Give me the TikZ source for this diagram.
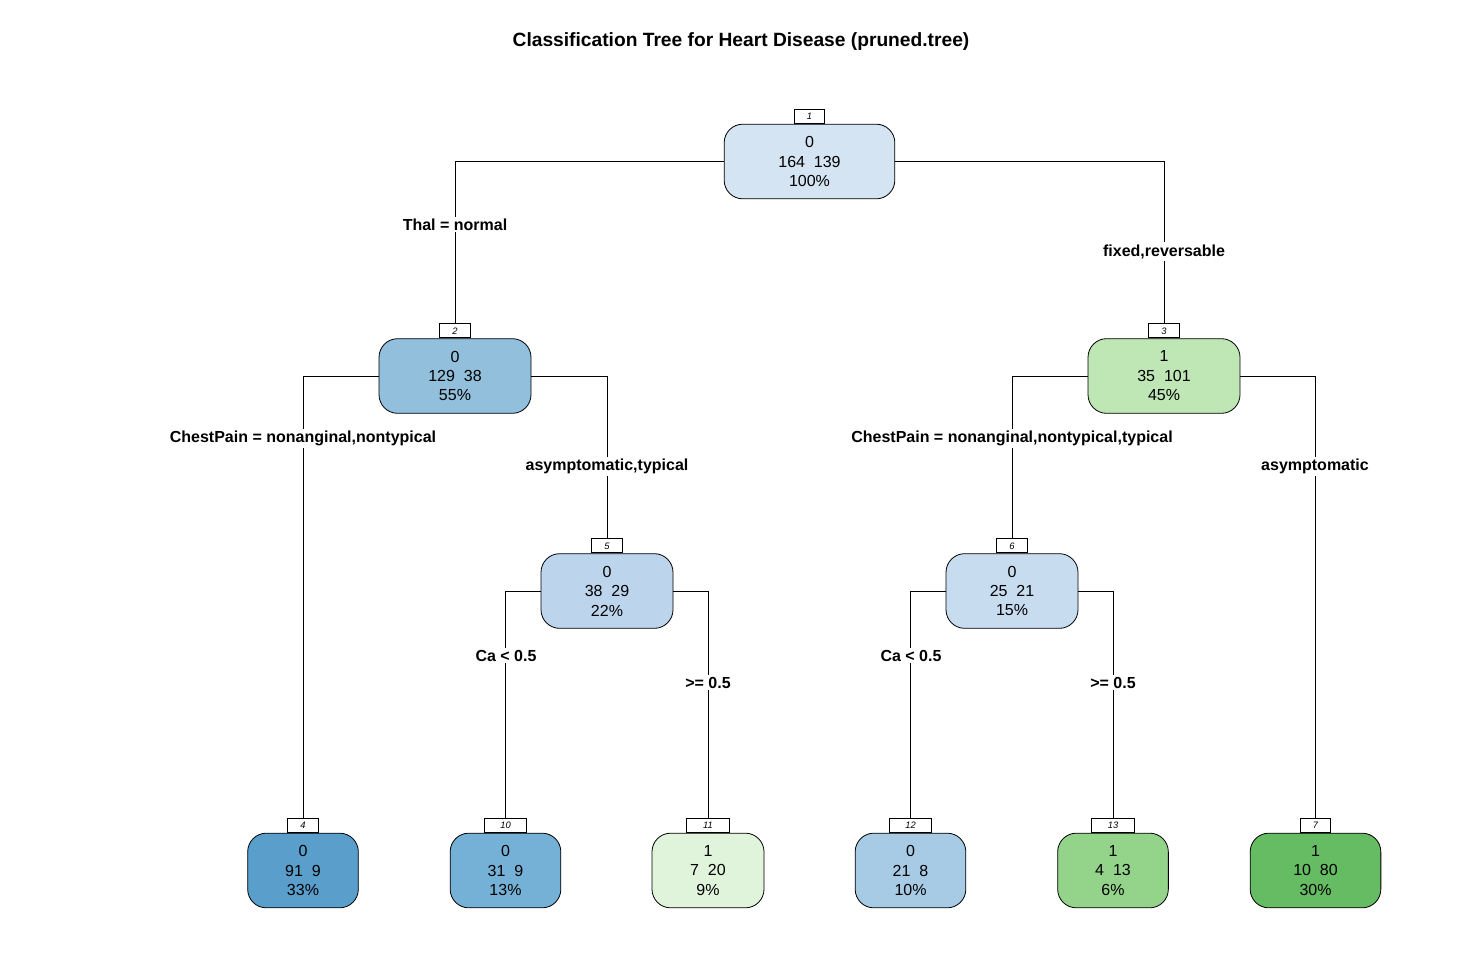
\documentclass[tikz,border=0pt]{standalone}
\usepackage{fontspec}
\setmainfont{Liberation Sans}
\definecolor{c1}{RGB}{213,228,243}
\definecolor{c2}{RGB}{146,191,219}
\definecolor{c3}{RGB}{191,230,181}
\definecolor{c4}{RGB}{90,158,204}
\definecolor{c5}{RGB}{188,212,236}
\definecolor{c6}{RGB}{200,220,240}
\definecolor{c7}{RGB}{101,188,98}
\definecolor{c10}{RGB}{117,177,214}
\definecolor{c11}{RGB}{224,243,219}
\definecolor{c12}{RGB}{167,203,228}
\definecolor{c13}{RGB}{148,212,138}
\begin{document}
\begin{tikzpicture}[x=0.75pt,y=-0.75pt,
  tnode/.style={draw, rounded corners=14pt, minimum height=56pt, align=center,
    font=\fontsize{12}{14.6}\selectfont, inner sep=0pt, line width=0.6pt},
  numbox/.style={draw, fill=white, anchor=south, minimum width=23pt, minimum height=10.5pt,
    inner sep=1pt, line width=0.6pt, font=\fontsize{7}{8}\itshape\selectfont},
  elabel/.style={fill=white, font=\fontsize{12}{14}\bfseries\selectfont, inner sep=1.5pt},
  edge/.style={line width=0.6pt}]
\useasboundingbox (0,0) rectangle (1483,956);
\node[font=\fontsize{14.4}{17}\bfseries\selectfont] (title) at (741,41.5) {Classification Tree for Heart Disease (pruned.tree)};

% nodes
\node[tnode, fill=c1, minimum width=128pt] (n1) at (809.5,161.5) {0\\164~~139\\100\%};
\node[tnode, fill=c2, minimum width=114pt] (n2) at (455,376) {0\\129~~38\\55\%};
\node[tnode, fill=c3, minimum width=114pt] (n3) at (1164,376) {1\\35~~101\\45\%};
\node[tnode, fill=c5, minimum width=99pt] (n5) at (607,591) {0\\38~~29\\22\%};
\node[tnode, fill=c6, minimum width=99pt] (n6) at (1012,591) {0\\25~~21\\15\%};
\node[tnode, fill=c4, minimum width=83pt] (n4) at (303,870.5) {0\\91~~9\\33\%};
\node[tnode, fill=c10, minimum width=83pt] (n10) at (505.5,870.5) {0\\31~~9\\13\%};
\node[tnode, fill=c11, minimum width=84pt] (n11) at (708,870.5) {1\\7~~20\\9\%};
\node[tnode, fill=c12, minimum width=83pt] (n12) at (910.5,870.5) {0\\21~~8\\10\%};
\node[tnode, fill=c13, minimum width=83pt] (n13) at (1113,870.5) {1\\4~~13\\6\%};
\node[tnode, fill=c7, minimum width=98pt] (n7) at (1315.5,870.5) {1\\10~~80\\30\%};

% number boxes
\node[numbox] (b1) at (n1.north) {1};
\node[numbox] (b2) at (n2.north) {2};
\node[numbox] (b3) at (n3.north) {3};
\node[numbox] (b4) at (n4.north) {4};
\node[numbox] (b5) at (n5.north) {5};
\node[numbox] (b6) at (n6.north) {6};
\node[numbox] (b7) at (n7.north) {7};
\node[numbox, minimum width=32pt] (b10) at (n10.north) {10};
\node[numbox, minimum width=32pt] (b11) at (n11.north) {11};
\node[numbox, minimum width=32pt] (b12) at (n12.north) {12};
\node[numbox, minimum width=32pt] (b13) at (n13.north) {13};

% connectors
\draw[edge] (n1.west) -| (b2.north);
\draw[edge] (n1.east) -| (b3.north);
\draw[edge] (n2.west) -| (b4.north);
\draw[edge] (n2.east) -| (b5.north);
\draw[edge] (n3.west) -| (b6.north);
\draw[edge] (n3.east) -| (b7.north);
\draw[edge] (n5.west) -| (b10.north);
\draw[edge] (n5.east) -| (b11.north);
\draw[edge] (n6.west) -| (b12.north);
\draw[edge] (n6.east) -| (b13.north);

% split labels
\node[elabel] (l2) at (455,224.5) {Thal = normal};
\node[elabel] (l3) at (1164,251.5) {fixed,reversable};
\node[elabel] (l4) at (303,438.5) {ChestPain = nonanginal,nontypical};
\node[elabel] (l5) at (607,466.5) {asymptomatic,typical};
\node[elabel] (l6) at (1012,438.5) {ChestPain = nonanginal,nontypical,typical};
\node[elabel] (l7) at (1315,466.5) {asymptomatic};
\node[elabel] (l10) at (506,655.5) {Ca < 0.5};
\node[elabel] (l11) at (708,682.5) {>= 0.5};
\node[elabel] (l12) at (911,655.5) {Ca < 0.5};
\node[elabel] (l13) at (1113,682.5) {>= 0.5};
\end{tikzpicture}
\end{document}
